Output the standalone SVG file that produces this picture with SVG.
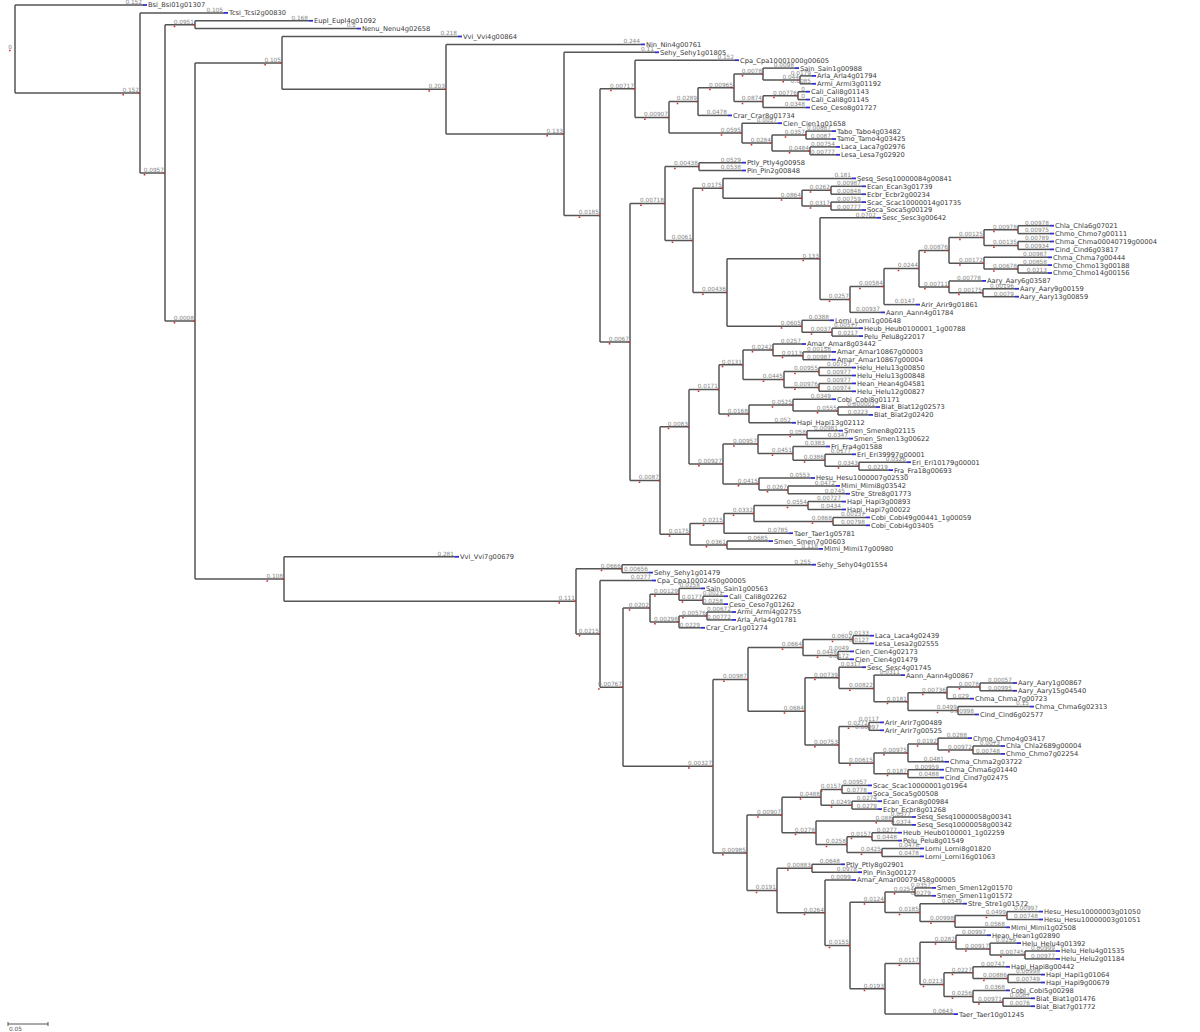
<svg xmlns="http://www.w3.org/2000/svg" xmlns:xlink="http://www.w3.org/1999/xlink" width="1200" height="1032" viewBox="0 0 1200 1032">
<style>
.e path{fill:none;stroke:#555;stroke-width:1.5}
.b{font-family:"DejaVu Sans",Verdana,sans-serif;font-size:5.8px;fill:#858585;text-anchor:end}
.t{font-family:"DejaVu Sans",Verdana,sans-serif;font-size:6.7px;fill:#383838}
.m{stroke:#2f2fd8;stroke-width:1.8}
.r{stroke:#d42a2a;stroke-width:1.5;fill:none}
</style>
<defs>
<path id="bm" class="m" d="M0,0h4"/>
<path id="r5" class="r" d="M-17.6,1.8h1.6M-1.6,0h1.6"/>
<path id="r6" class="r" d="M-21.3,1.8h1.6M-1.6,0h1.6"/>
<path id="r7" class="r" d="M-24.9,1.8h1.6M-1.6,0h1.6"/>
</defs>
<rect width="1200" height="1032" fill="#fff"/>
<g class="e" id="connectors">
<path d="M15,5V92.9"/>
<path d="M15,92.9H140M140,12.9V172.9"/>
<path d="M140,172.9H165M165,24.7V321"/>
<path d="M165,24.7H195M195,20.8V28.6"/>
<path d="M165,321H195M195,62.9V579.1"/>
<path d="M195,62.9H282M282,36.5V89.2"/>
<path d="M282,89.2H446M446,44.4V133.9"/>
<path d="M446,133.9H564M564,52.3V215.4"/>
<path d="M564,215.4H600M600,88.8V342"/>
<path d="M600,88.8H635M635,60.2V117.4"/>
<path d="M635,117.4H669M669,101.6V133.1"/>
<path d="M669,101.6H698M698,87.8V115.4"/>
<path d="M698,87.8H734M734,74V101.6"/>
<path d="M734,74H763M763,68.1V79.9"/>
<path d="M763,79.9H800M800,75.9V83.8"/>
<path d="M734,101.6H763M763,95.7V107.5"/>
<path d="M763,95.7H798M798,91.7V99.6"/>
<path d="M669,133.1H742M742,123.2V143"/>
<path d="M742,143H772M772,135.1V150.9"/>
<path d="M772,135.1H806M806,131.1V139"/>
<path d="M772,150.9H810M810,146.9V154.8"/>
<path d="M600,342H630M630,203.5V480.5"/>
<path d="M630,203.5H665M665,166.6V240.4"/>
<path d="M665,166.6H699M699,162.7V170.5"/>
<path d="M665,240.4H693M693,188.3V292.5"/>
<path d="M693,188.3H723M723,178.4V198.2"/>
<path d="M723,198.2H802M802,190.3V206.1"/>
<path d="M802,190.3H831M831,186.3V194.2"/>
<path d="M802,206.1H831M831,202.1V210"/>
<path d="M693,292.5H727M727,258.7V326.2"/>
<path d="M727,258.7H820M820,217.8V299.5"/>
<path d="M820,299.5H850M850,286.6V312.4"/>
<path d="M850,286.6H884M884,268.6V304.6"/>
<path d="M884,268.6H919M919,250.4V286.9"/>
<path d="M919,250.4H949M949,237.6V263.2"/>
<path d="M949,237.6H984M984,229.7V245.5"/>
<path d="M984,229.7H1018M1018,225.7V233.6"/>
<path d="M984,245.5H1018M1018,241.5V249.4"/>
<path d="M949,263.2H984M984,257.3V269.1"/>
<path d="M984,269.1H1018M1018,265.1V273"/>
<path d="M919,286.9H949M949,280.9V292.8"/>
<path d="M949,292.8H983M983,288.8V296.7"/>
<path d="M727,326.2H802M802,320.3V332.2"/>
<path d="M802,332.2H832M832,328.2V336.1"/>
<path d="M630,480.5H660M660,426.7V534.2"/>
<path d="M660,426.7H689M689,389.4V464"/>
<path d="M689,389.4H719M719,364.7V414"/>
<path d="M719,364.7H743M743,349.9V379.5"/>
<path d="M743,349.9H773M773,344V355.8"/>
<path d="M773,355.8H803M803,351.9V359.7"/>
<path d="M743,379.5H784M784,371.6V387.4"/>
<path d="M784,371.6H819M819,367.6V375.5"/>
<path d="M784,387.4H819M819,383.4V391.3"/>
<path d="M719,414H749M749,405.1V422.8"/>
<path d="M749,405.1H793M793,399.2V411"/>
<path d="M793,411H838M838,407V414.9"/>
<path d="M689,464H723M723,444.1V484"/>
<path d="M723,444.1H758M758,434.7V453.4"/>
<path d="M758,434.7H807M807,430.7V438.6"/>
<path d="M758,453.4H793M793,446.5V460.3"/>
<path d="M793,460.3H825M825,454.3V466.2"/>
<path d="M825,466.2H859M859,462.2V470.1"/>
<path d="M723,484H759M759,478V489.9"/>
<path d="M759,489.9H788M788,485.9V493.8"/>
<path d="M660,534.2H690M690,523.4V545"/>
<path d="M690,523.4H724M724,513.5V533.2"/>
<path d="M724,513.5H754M754,505.6V521.4"/>
<path d="M754,505.6H808M808,501.6V509.5"/>
<path d="M754,521.4H833M833,517.4V525.3"/>
<path d="M690,545H727M727,541.1V548.9"/>
<path d="M195,579.1H284M284,556.8V601.3"/>
<path d="M284,601.3H576M576,568.7V633.9"/>
<path d="M576,568.7H622M622,564.7V572.6"/>
<path d="M576,633.9H600M600,580.5V687.2"/>
<path d="M600,687.2H623M623,608.1V766.2"/>
<path d="M623,608.1H650M650,594.3V621.9"/>
<path d="M650,594.3H679M679,588.4V600.2"/>
<path d="M679,600.2H703M703,596.2V604.1"/>
<path d="M650,621.9H679M679,616V627.8"/>
<path d="M679,616H707M707,612V619.9"/>
<path d="M623,766.2H713M713,679.4V852.9"/>
<path d="M713,679.4H748M748,647.5V711.3"/>
<path d="M748,647.5H803M803,639.6V655.4"/>
<path d="M803,639.6H853M853,635.7V643.5"/>
<path d="M803,655.4H838M838,651.4V659.3"/>
<path d="M748,711.3H805M805,677.8V744.9"/>
<path d="M805,677.8H839M839,667.2V688.4"/>
<path d="M839,688.4H874M874,675.1V701.7"/>
<path d="M874,701.7H908M908,692.8V710.6"/>
<path d="M908,692.8H947M947,686.9V698.7"/>
<path d="M947,686.9H980M980,683V690.8"/>
<path d="M908,710.6H958M958,706.6V714.5"/>
<path d="M805,744.9H839M839,726.4V763.3"/>
<path d="M839,726.4H869M869,722.4V730.3"/>
<path d="M839,763.3H874M874,752.9V773.7"/>
<path d="M874,752.9H908M908,744.1V761.8"/>
<path d="M908,744.1H938M938,738.1V750"/>
<path d="M938,750H973M973,746V753.9"/>
<path d="M874,773.7H908M908,769.7V777.6"/>
<path d="M713,852.9H747M747,815.1V890.6"/>
<path d="M747,815.1H782M782,797.3V832.8"/>
<path d="M782,797.3H821M821,789.4V805.2"/>
<path d="M821,789.4H842M842,785.4V793.3"/>
<path d="M821,805.2H852M852,801.2V809.1"/>
<path d="M782,832.8H816M816,821V844.6"/>
<path d="M816,821H893M893,817V824.9"/>
<path d="M816,844.6H847M847,836.7V852.5"/>
<path d="M847,836.7H872M872,832.7V840.6"/>
<path d="M847,852.5H882M882,848.5V856.4"/>
<path d="M747,890.6H777M777,868.3V912.8"/>
<path d="M777,868.3H812M812,864.3V872.2"/>
<path d="M777,912.8H825M825,880V945.6"/>
<path d="M825,945.6H850M850,902.3V988.8"/>
<path d="M850,902.3H885M885,891.9V912.6"/>
<path d="M885,891.9H915M915,887.9V895.8"/>
<path d="M885,912.6H920M920,903.7V921.5"/>
<path d="M920,921.5H955M955,915.6V927.3"/>
<path d="M955,915.6H1007M1007,911.6V919.5"/>
<path d="M850,988.8H885M885,963.4V1014.1"/>
<path d="M885,963.4H920M920,942.2V984.6"/>
<path d="M920,942.2H956M956,935.2V949.1"/>
<path d="M956,949.1H990M990,943.1V955"/>
<path d="M990,955H1025M1025,951V958.9"/>
<path d="M920,984.6H944M944,972.7V996.4"/>
<path d="M944,972.7H973M973,966.8V978.6"/>
<path d="M973,978.6H1008M1008,974.6V982.5"/>
<path d="M944,996.4H973M973,990.4V1002.3"/>
<path d="M973,1002.3H1003M1003,998.3V1006.2"/>
<path d="M15,5H143"/>
<path d="M140,12.9H224"/>
<path d="M195,20.8H309"/>
<path d="M195,28.6H357"/>
<path d="M282,36.5H458"/>
<path d="M446,44.4H641"/>
<path d="M564,52.3H655"/>
<path d="M635,60.2H735"/>
<path d="M763,68.1H795"/>
<path d="M800,75.9H812"/>
<path d="M800,83.8H812"/>
<path d="M798,91.7H806"/>
<path d="M798,99.6H806"/>
<path d="M763,107.5H806"/>
<path d="M698,115.4H728"/>
<path d="M742,123.2H778"/>
<path d="M806,131.1H832"/>
<path d="M806,139H832"/>
<path d="M810,146.9H836"/>
<path d="M810,154.8H836"/>
<path d="M699,162.7H742"/>
<path d="M699,170.5H742"/>
<path d="M723,178.4H852"/>
<path d="M831,186.3H862"/>
<path d="M831,194.2H862"/>
<path d="M831,202.1H862"/>
<path d="M831,210H862"/>
<path d="M820,217.8H877"/>
<path d="M1018,225.7H1050"/>
<path d="M1018,233.6H1050"/>
<path d="M1018,241.5H1050"/>
<path d="M1018,249.4H1050"/>
<path d="M984,257.3H1048"/>
<path d="M1018,265.1H1048"/>
<path d="M1018,273H1048"/>
<path d="M949,280.9H982"/>
<path d="M983,288.8H1015"/>
<path d="M983,296.7H1015"/>
<path d="M884,304.6H916"/>
<path d="M850,312.4H881"/>
<path d="M802,320.3H830"/>
<path d="M832,328.2H859"/>
<path d="M832,336.1H859"/>
<path d="M773,344H802"/>
<path d="M803,351.9H832"/>
<path d="M803,359.7H832"/>
<path d="M819,367.6H852"/>
<path d="M819,375.5H852"/>
<path d="M819,383.4H852"/>
<path d="M819,391.3H852"/>
<path d="M793,399.2H832"/>
<path d="M838,407H876"/>
<path d="M838,414.9H869"/>
<path d="M749,422.8H792"/>
<path d="M807,430.7H839"/>
<path d="M807,438.6H849"/>
<path d="M793,446.5H826"/>
<path d="M825,454.3H852"/>
<path d="M859,462.2H907"/>
<path d="M859,470.1H889"/>
<path d="M759,478H811"/>
<path d="M788,485.9H836"/>
<path d="M788,493.8H846"/>
<path d="M808,501.6H842"/>
<path d="M808,509.5H842"/>
<path d="M833,517.4H866"/>
<path d="M833,525.3H866"/>
<path d="M724,533.2H789"/>
<path d="M727,541.1H769"/>
<path d="M727,548.9H819"/>
<path d="M284,556.8H455"/>
<path d="M622,564.7H812"/>
<path d="M622,572.6H649"/>
<path d="M600,580.5H652"/>
<path d="M679,588.4H701"/>
<path d="M703,596.2H724"/>
<path d="M703,604.1H724"/>
<path d="M707,612H732"/>
<path d="M707,619.9H732"/>
<path d="M679,627.8H701"/>
<path d="M853,635.7H870"/>
<path d="M853,643.5H870"/>
<path d="M838,651.4H850"/>
<path d="M838,659.3H850"/>
<path d="M839,667.2H862"/>
<path d="M874,675.1H901"/>
<path d="M980,683H1013"/>
<path d="M980,690.8H1013"/>
<path d="M947,698.7H970"/>
<path d="M958,706.6H1030"/>
<path d="M958,714.5H975"/>
<path d="M869,722.4H880"/>
<path d="M869,730.3H880"/>
<path d="M938,738.1H968"/>
<path d="M973,746H1001"/>
<path d="M973,753.9H1001"/>
<path d="M908,761.8H945"/>
<path d="M908,769.7H940"/>
<path d="M908,777.6H940"/>
<path d="M842,785.4H868"/>
<path d="M842,793.3H868"/>
<path d="M852,801.2H878"/>
<path d="M852,809.1H878"/>
<path d="M893,817H912"/>
<path d="M893,824.9H912"/>
<path d="M872,832.7H898"/>
<path d="M872,840.6H898"/>
<path d="M882,848.5H920"/>
<path d="M882,856.4H920"/>
<path d="M812,864.3H841"/>
<path d="M812,872.2H858"/>
<path d="M825,880H852"/>
<path d="M915,887.9H932"/>
<path d="M915,895.8H932"/>
<path d="M920,903.7H963"/>
<path d="M1007,911.6H1039"/>
<path d="M1007,919.5H1039"/>
<path d="M955,927.3H1006"/>
<path d="M956,935.2H987"/>
<path d="M990,943.1H1017"/>
<path d="M1025,951H1056"/>
<path d="M1025,958.9H1056"/>
<path d="M973,966.8H1006"/>
<path d="M1008,974.6H1041"/>
<path d="M1008,982.5H1041"/>
<path d="M973,990.4H1006"/>
<path d="M1003,998.3H1031"/>
<path d="M1003,1006.2H1031"/>
<path d="M885,1014.1H954"/>
</g>
<g id="root" transform="translate(15,49)"><text class="b" x="-3" y="0">0</text><path class="r" d="M-6,1.6h1.6"/></g>
<g id="inner-nodes">
<g id="N_a" transform="translate(140,92.9)"><use href="#r5"/><text class="b" x="-1" y="-1.2">0.152</text></g>
<g id="N_b" transform="translate(165,172.9)"><use href="#r6"/><text class="b" x="-1" y="-1.2">0.0957</text></g>
<g id="N_c" transform="translate(195,24.7)"><use href="#r6"/><text class="b" x="-1" y="-1.2">0.0951</text></g>
<g id="N_d" transform="translate(195,321)"><use href="#r6"/><text class="b" x="-1" y="-1.2">0.0008</text></g>
<g id="N_e" transform="translate(282,62.9)"><use href="#r5"/><text class="b" x="-1" y="-1.2">0.105</text></g>
<g id="N_g" transform="translate(446,89.2)"><use href="#r5"/><text class="b" x="-1" y="-1.2">0.203</text></g>
<g id="N_h" transform="translate(564,133.9)"><use href="#r5"/><text class="b" x="-1" y="-1.2">0.133</text></g>
<g id="N_i" transform="translate(600,215.4)"><use href="#r6"/><text class="b" x="-1" y="-1.2">0.0185</text></g>
<g id="N_j" transform="translate(635,88.8)"><use href="#r7"/><text class="b" x="-1" y="-1.2">0.00717</text></g>
<g id="N_l" transform="translate(669,117.4)"><use href="#r7"/><text class="b" x="-1" y="-1.2">0.00907</text></g>
<g id="N_m" transform="translate(698,101.6)"><use href="#r6"/><text class="b" x="-1" y="-1.2">0.0289</text></g>
<g id="N_o" transform="translate(734,87.8)"><use href="#r7"/><text class="b" x="-1" y="-1.2">0.00965</text></g>
<g id="N_p" transform="translate(763,74)"><use href="#r6"/><text class="b" x="-1" y="-1.2">0.0078</text></g>
<g id="N_r" transform="translate(800,79.9)"><use href="#r5"/><text class="b" x="-1" y="-1.2">0.044</text></g>
<g id="N_q" transform="translate(763,101.6)"><use href="#r6"/><text class="b" x="-1" y="-1.2">0.0874</text></g>
<g id="N_s" transform="translate(798,95.7)"><use href="#r7"/><text class="b" x="-1" y="-1.2">0.00776</text></g>
<g id="N_n" transform="translate(742,133.1)"><use href="#r6"/><text class="b" x="-1" y="-1.2">0.0595</text></g>
<g id="N_t" transform="translate(772,143)"><use href="#r6"/><text class="b" x="-1" y="-1.2">0.0284</text></g>
<g id="N_u" transform="translate(806,135.1)"><use href="#r6"/><text class="b" x="-1" y="-1.2">0.0357</text></g>
<g id="N_v" transform="translate(810,150.9)"><use href="#r6"/><text class="b" x="-1" y="-1.2">0.0484</text></g>
<g id="N_k" transform="translate(630,342)"><use href="#r6"/><text class="b" x="-1" y="-1.2">0.0067</text></g>
<g id="N_w" transform="translate(665,203.5)"><use href="#r7"/><text class="b" x="-1" y="-1.2">0.00718</text></g>
<g id="N_y" transform="translate(699,166.6)"><use href="#r7"/><text class="b" x="-1" y="-1.2">0.00438</text></g>
<g id="N_z" transform="translate(693,240.4)"><use href="#r6"/><text class="b" x="-1" y="-1.2">0.0061</text></g>
<g id="E4" transform="translate(723,188.3)"><use href="#r6"/><text class="b" x="-1" y="-1.2">0.0175</text></g>
<g id="E3" transform="translate(802,198.2)"><use href="#r6"/><text class="b" x="-1" y="-1.2">0.0864</text></g>
<g id="E1" transform="translate(831,190.3)"><use href="#r6"/><text class="b" x="-1" y="-1.2">0.0262</text></g>
<g id="E2" transform="translate(831,206.1)"><use href="#r6"/><text class="b" x="-1" y="-1.2">0.0317</text></g>
<g id="N_aa" transform="translate(727,292.5)"><use href="#r7"/><text class="b" x="-1" y="-1.2">0.00436</text></g>
<g id="C12" transform="translate(820,258.7)"><use href="#r5"/><text class="b" x="-1" y="-1.2">0.133</text></g>
<g id="C11" transform="translate(850,299.5)"><use href="#r6"/><text class="b" x="-1" y="-1.2">0.0257</text></g>
<g id="C10" transform="translate(884,286.6)"><use href="#r7"/><text class="b" x="-1" y="-1.2">0.00584</text></g>
<g id="C9" transform="translate(919,268.6)"><use href="#r6"/><text class="b" x="-1" y="-1.2">0.0244</text></g>
<g id="C6" transform="translate(949,250.4)"><use href="#r7"/><text class="b" x="-1" y="-1.2">0.00876</text></g>
<g id="C3" transform="translate(984,237.6)"><use href="#r7"/><text class="b" x="-1" y="-1.2">0.00125</text></g>
<g id="C1" transform="translate(1018,229.7)"><use href="#r7"/><text class="b" x="-1" y="-1.2">0.00978</text></g>
<g id="C2" transform="translate(1018,245.5)"><use href="#r7"/><text class="b" x="-1" y="-1.2">0.00135</text></g>
<g id="C5" transform="translate(984,263.2)"><use href="#r7"/><text class="b" x="-1" y="-1.2">0.00172</text></g>
<g id="C4" transform="translate(1018,269.1)"><use href="#r7"/><text class="b" x="-1" y="-1.2">0.00678</text></g>
<g id="C8" transform="translate(949,286.9)"><use href="#r7"/><text class="b" x="-1" y="-1.2">0.00711</text></g>
<g id="C7" transform="translate(983,292.8)"><use href="#r7"/><text class="b" x="-1" y="-1.2">0.00175</text></g>
<g id="H2" transform="translate(802,326.2)"><use href="#r6"/><text class="b" x="-1" y="-1.2">0.0605</text></g>
<g id="H1" transform="translate(832,332.2)"><use href="#r6"/><text class="b" x="-1" y="-1.2">0.0037</text></g>
<g id="N_x" transform="translate(660,480.5)"><use href="#r6"/><text class="b" x="-1" y="-1.2">0.0087</text></g>
<g id="N_ab" transform="translate(689,426.7)"><use href="#r6"/><text class="b" x="-1" y="-1.2">0.0083</text></g>
<g id="A7" transform="translate(719,389.4)"><use href="#r6"/><text class="b" x="-1" y="-1.2">0.0171</text></g>
<g id="A6" transform="translate(743,364.7)"><use href="#r6"/><text class="b" x="-1" y="-1.2">0.0131</text></g>
<g id="A2" transform="translate(773,349.9)"><use href="#r6"/><text class="b" x="-1" y="-1.2">0.0242</text></g>
<g id="A1" transform="translate(803,355.8)"><use href="#r6"/><text class="b" x="-1" y="-1.2">0.0113</text></g>
<g id="A5" transform="translate(784,379.5)"><use href="#r6"/><text class="b" x="-1" y="-1.2">0.0445</text></g>
<g id="A3" transform="translate(819,371.6)"><use href="#r7"/><text class="b" x="-1" y="-1.2">0.00955</text></g>
<g id="A4" transform="translate(819,387.4)"><use href="#r7"/><text class="b" x="-1" y="-1.2">0.00976</text></g>
<g id="B3" transform="translate(749,414)"><use href="#r6"/><text class="b" x="-1" y="-1.2">0.0168</text></g>
<g id="B2" transform="translate(793,405.1)"><use href="#r6"/><text class="b" x="-1" y="-1.2">0.0525</text></g>
<g id="B1" transform="translate(838,411)"><use href="#r6"/><text class="b" x="-1" y="-1.2">0.0555</text></g>
<g id="F5" transform="translate(723,464)"><use href="#r7"/><text class="b" x="-1" y="-1.2">0.00927</text></g>
<g id="F4" transform="translate(758,444.1)"><use href="#r7"/><text class="b" x="-1" y="-1.2">0.00957</text></g>
<g id="S1" transform="translate(807,434.7)"><use href="#r5"/><text class="b" x="-1" y="-1.2">0.058</text></g>
<g id="F3" transform="translate(793,453.4)"><use href="#r6"/><text class="b" x="-1" y="-1.2">0.0451</text></g>
<g id="F2" transform="translate(825,460.3)"><use href="#r6"/><text class="b" x="-1" y="-1.2">0.0386</text></g>
<g id="F1" transform="translate(859,466.2)"><use href="#r6"/><text class="b" x="-1" y="-1.2">0.0343</text></g>
<g id="M2" transform="translate(759,484)"><use href="#r6"/><text class="b" x="-1" y="-1.2">0.0415</text></g>
<g id="M1" transform="translate(788,489.9)"><use href="#r6"/><text class="b" x="-1" y="-1.2">0.0267</text></g>
<g id="N_ac" transform="translate(690,534.2)"><use href="#r6"/><text class="b" x="-1" y="-1.2">0.0175</text></g>
<g id="K4" transform="translate(724,523.4)"><use href="#r6"/><text class="b" x="-1" y="-1.2">0.0215</text></g>
<g id="K3" transform="translate(754,513.5)"><use href="#r6"/><text class="b" x="-1" y="-1.2">0.0332</text></g>
<g id="K1" transform="translate(808,505.6)"><use href="#r6"/><text class="b" x="-1" y="-1.2">0.0554</text></g>
<g id="K2" transform="translate(833,521.4)"><use href="#r6"/><text class="b" x="-1" y="-1.2">0.0868</text></g>
<g id="K5" transform="translate(727,545)"><use href="#r6"/><text class="b" x="-1" y="-1.2">0.0361</text></g>
<g id="N_f" transform="translate(284,579.1)"><use href="#r5"/><text class="b" x="-1" y="-1.2">0.108</text></g>
<g id="N_ad" transform="translate(576,601.3)"><use href="#r5"/><text class="b" x="-1" y="-1.2">0.111</text></g>
<g id="N_ae" transform="translate(622,568.7)"><use href="#r6"/><text class="b" x="-1" y="-1.2">0.0666</text></g>
<g id="N_af" transform="translate(600,633.9)"><use href="#r6"/><text class="b" x="-1" y="-1.2">0.0215</text></g>
<g id="N_ag" transform="translate(623,687.2)"><use href="#r7"/><text class="b" x="-1" y="-1.2">0.00767</text></g>
<g id="P1" transform="translate(650,608.1)"><use href="#r6"/><text class="b" x="-1" y="-1.2">0.0202</text></g>
<g id="P2" transform="translate(679,594.3)"><use href="#r7"/><text class="b" x="-1" y="-1.2">0.00129</text></g>
<g id="P3" transform="translate(703,600.2)"><use href="#r6"/><text class="b" x="-1" y="-1.2">0.0177</text></g>
<g id="P4" transform="translate(679,621.9)"><use href="#r7"/><text class="b" x="-1" y="-1.2">0.00298</text></g>
<g id="P5" transform="translate(707,616)"><use href="#r7"/><text class="b" x="-1" y="-1.2">0.00576</text></g>
<g id="Q1" transform="translate(713,766.2)"><use href="#r7"/><text class="b" x="-1" y="-1.2">0.00327</text></g>
<g id="Q2" transform="translate(748,679.4)"><use href="#r7"/><text class="b" x="-1" y="-1.2">0.00987</text></g>
<g id="R1" transform="translate(803,647.5)"><use href="#r6"/><text class="b" x="-1" y="-1.2">0.0664</text></g>
<g id="R2" transform="translate(853,639.6)"><use href="#r6"/><text class="b" x="-1" y="-1.2">0.0602</text></g>
<g id="R3" transform="translate(838,655.4)"><use href="#r6"/><text class="b" x="-1" y="-1.2">0.0448</text></g>
<g id="R4" transform="translate(805,711.3)"><use href="#r6"/><text class="b" x="-1" y="-1.2">0.0684</text></g>
<g id="T6" transform="translate(839,677.8)"><use href="#r7"/><text class="b" x="-1" y="-1.2">0.00739</text></g>
<g id="T5" transform="translate(874,688.4)"><use href="#r7"/><text class="b" x="-1" y="-1.2">0.00822</text></g>
<g id="T4" transform="translate(908,701.7)"><use href="#r6"/><text class="b" x="-1" y="-1.2">0.0181</text></g>
<g id="T2" transform="translate(947,692.8)"><use href="#r7"/><text class="b" x="-1" y="-1.2">0.00736</text></g>
<g id="T1" transform="translate(980,686.9)"><use href="#r6"/><text class="b" x="-1" y="-1.2">0.0078</text></g>
<g id="T3" transform="translate(958,710.6)"><use href="#r6"/><text class="b" x="-1" y="-1.2">0.0499</text></g>
<g id="U7" transform="translate(839,744.9)"><use href="#r7"/><text class="b" x="-1" y="-1.2">0.00753</text></g>
<g id="U1" transform="translate(869,726.4)"><use href="#r6"/><text class="b" x="-1" y="-1.2">0.0272</text></g>
<g id="U6" transform="translate(874,763.3)"><use href="#r7"/><text class="b" x="-1" y="-1.2">0.00615</text></g>
<g id="U4" transform="translate(908,752.9)"><use href="#r7"/><text class="b" x="-1" y="-1.2">0.00975</text></g>
<g id="U3" transform="translate(938,744.1)"><use href="#r6"/><text class="b" x="-1" y="-1.2">0.0192</text></g>
<g id="U2" transform="translate(973,750)"><use href="#r7"/><text class="b" x="-1" y="-1.2">0.00972</text></g>
<g id="U5" transform="translate(908,773.7)"><use href="#r6"/><text class="b" x="-1" y="-1.2">0.0187</text></g>
<g id="Q3" transform="translate(747,852.9)"><use href="#r7"/><text class="b" x="-1" y="-1.2">0.00985</text></g>
<g id="V4" transform="translate(782,815.1)"><use href="#r7"/><text class="b" x="-1" y="-1.2">0.00907</text></g>
<g id="V3" transform="translate(821,797.3)"><use href="#r6"/><text class="b" x="-1" y="-1.2">0.0488</text></g>
<g id="V1" transform="translate(842,789.4)"><use href="#r6"/><text class="b" x="-1" y="-1.2">0.0157</text></g>
<g id="V2" transform="translate(852,805.2)"><use href="#r6"/><text class="b" x="-1" y="-1.2">0.0249</text></g>
<g id="W5" transform="translate(816,832.8)"><use href="#r6"/><text class="b" x="-1" y="-1.2">0.0278</text></g>
<g id="W1" transform="translate(893,821)"><use href="#r5"/><text class="b" x="-1" y="-1.2">0.088</text></g>
<g id="W4" transform="translate(847,844.6)"><use href="#r6"/><text class="b" x="-1" y="-1.2">0.0258</text></g>
<g id="W2" transform="translate(872,836.7)"><use href="#r6"/><text class="b" x="-1" y="-1.2">0.0157</text></g>
<g id="W3" transform="translate(882,852.5)"><use href="#r6"/><text class="b" x="-1" y="-1.2">0.0425</text></g>
<g id="X2" transform="translate(777,890.6)"><use href="#r6"/><text class="b" x="-1" y="-1.2">0.0191</text></g>
<g id="X1" transform="translate(812,868.3)"><use href="#r7"/><text class="b" x="-1" y="-1.2">0.00883</text></g>
<g id="Y7" transform="translate(825,912.8)"><use href="#r6"/><text class="b" x="-1" y="-1.2">0.0264</text></g>
<g id="Y6" transform="translate(850,945.6)"><use href="#r6"/><text class="b" x="-1" y="-1.2">0.0155</text></g>
<g id="Y5" transform="translate(885,902.3)"><use href="#r6"/><text class="b" x="-1" y="-1.2">0.0124</text></g>
<g id="Y1" transform="translate(915,891.9)"><use href="#r6"/><text class="b" x="-1" y="-1.2">0.0254</text></g>
<g id="Y4" transform="translate(920,912.6)"><use href="#r6"/><text class="b" x="-1" y="-1.2">0.0185</text></g>
<g id="Y3" transform="translate(955,921.5)"><use href="#r7"/><text class="b" x="-1" y="-1.2">0.00998</text></g>
<g id="Y2" transform="translate(1007,915.6)"><use href="#r6"/><text class="b" x="-1" y="-1.2">0.0499</text></g>
<g id="Z10" transform="translate(885,988.8)"><use href="#r6"/><text class="b" x="-1" y="-1.2">0.0193</text></g>
<g id="Z9" transform="translate(920,963.4)"><use href="#r6"/><text class="b" x="-1" y="-1.2">0.0117</text></g>
<g id="Z3" transform="translate(956,942.2)"><use href="#r6"/><text class="b" x="-1" y="-1.2">0.0282</text></g>
<g id="Z2" transform="translate(990,949.1)"><use href="#r7"/><text class="b" x="-1" y="-1.2">0.00917</text></g>
<g id="Z1" transform="translate(1025,955)"><use href="#r7"/><text class="b" x="-1" y="-1.2">0.00745</text></g>
<g id="Z8" transform="translate(944,984.6)"><use href="#r6"/><text class="b" x="-1" y="-1.2">0.0213</text></g>
<g id="Z5" transform="translate(973,972.7)"><use href="#r6"/><text class="b" x="-1" y="-1.2">0.0227</text></g>
<g id="Z4" transform="translate(1008,978.6)"><use href="#r7"/><text class="b" x="-1" y="-1.2">0.00886</text></g>
<g id="Z7" transform="translate(973,996.4)"><use href="#r6"/><text class="b" x="-1" y="-1.2">0.0256</text></g>
<g id="Z6" transform="translate(1003,1002.3)"><use href="#r7"/><text class="b" x="-1" y="-1.2">0.00971</text></g>
</g>
<g id="leaves">
<g id="L1" transform="translate(143,5)"><use href="#bm"/><text class="b" x="-1" y="-1.2">0.152</text><text class="t" x="5" y="2.4">Bsi_Bsi01g01307</text></g>
<g id="L2" transform="translate(224,12.9)"><use href="#bm"/><text class="b" x="-1" y="-1.2">0.105</text><text class="t" x="5" y="2.4">Tcsi_Tcsi2g00830</text></g>
<g id="L3" transform="translate(309,20.8)"><use href="#bm"/><text class="b" x="-1" y="-1.2">0.168</text><text class="t" x="5" y="2.4">Eupl_Eupl4g01092</text></g>
<g id="L4" transform="translate(357,28.6)"><use href="#bm"/><text class="b" x="-1" y="-1.2">0.2</text><text class="t" x="5" y="2.4">Nenu_Nenu4g02658</text></g>
<g id="L5" transform="translate(458,36.5)"><use href="#bm"/><text class="b" x="-1" y="-1.2">0.218</text><text class="t" x="5" y="2.4">Vvi_Vvi4g00864</text></g>
<g id="L6" transform="translate(641,44.4)"><use href="#bm"/><text class="b" x="-1" y="-1.2">0.244</text><text class="t" x="5" y="2.4">Nin_Nin4g00761</text></g>
<g id="L7" transform="translate(655,52.3)"><use href="#bm"/><text class="b" x="-1" y="-1.2">0.11</text><text class="t" x="5" y="2.4">Sehy_Sehy1g01805</text></g>
<g id="L8" transform="translate(735,60.2)"><use href="#bm"/><text class="b" x="-1" y="-1.2">0.152</text><text class="t" x="5" y="2.4">Cpa_Cpa10001000g00605</text></g>
<g id="L9" transform="translate(795,68.1)"><use href="#bm"/><text class="b" x="-1" y="-1.2">0.0098</text><text class="t" x="5" y="2.4">Sain_Sain1g00988</text></g>
<g id="L10" transform="translate(812,75.9)"><use href="#bm"/><text class="b" x="-1" y="-1.2">0.0179</text><text class="t" x="5" y="2.4">Arla_Arla4g01794</text></g>
<g id="L11" transform="translate(812,83.8)"><use href="#bm"/><text class="b" x="-1" y="-1.2">0.0085</text><text class="t" x="5" y="2.4">Armi_Armi3g01192</text></g>
<g id="L12" transform="translate(806,91.7)"><use href="#bm"/><text class="b" x="-1" y="-1.2">0</text><text class="t" x="5" y="2.4">Cali_Cali8g01143</text></g>
<g id="L13" transform="translate(806,99.6)"><use href="#bm"/><text class="b" x="-1" y="-1.2">0</text><text class="t" x="5" y="2.4">Cali_Cali8g01145</text></g>
<g id="L14" transform="translate(806,107.5)"><use href="#bm"/><text class="b" x="-1" y="-1.2">0.0348</text><text class="t" x="5" y="2.4">Ceso_Ceso8g01727</text></g>
<g id="L15" transform="translate(728,115.4)"><use href="#bm"/><text class="b" x="-1" y="-1.2">0.0478</text><text class="t" x="5" y="2.4">Crar_Crar8g01734</text></g>
<g id="L16" transform="translate(778,123.2)"><use href="#bm"/><text class="b" x="-1" y="-1.2">0.0057</text><text class="t" x="5" y="2.4">Cien_Cien1g01658</text></g>
<g id="L17" transform="translate(832,131.1)"><use href="#bm"/><text class="b" x="-1" y="-1.2">0.00887</text><text class="t" x="5" y="2.4">Tabo_Tabo4g03482</text></g>
<g id="L18" transform="translate(832,139)"><use href="#bm"/><text class="b" x="-1" y="-1.2">0.0087</text><text class="t" x="5" y="2.4">Tamo_Tamo4g03425</text></g>
<g id="L19" transform="translate(836,146.9)"><use href="#bm"/><text class="b" x="-1" y="-1.2">0.00754</text><text class="t" x="5" y="2.4">Laca_Laca7g02976</text></g>
<g id="L20" transform="translate(836,154.8)"><use href="#bm"/><text class="b" x="-1" y="-1.2">0.00777</text><text class="t" x="5" y="2.4">Lesa_Lesa7g02920</text></g>
<g id="L21" transform="translate(742,162.7)"><use href="#bm"/><text class="b" x="-1" y="-1.2">0.0529</text><text class="t" x="5" y="2.4">Ptly_Ptly4g00958</text></g>
<g id="L22" transform="translate(742,170.5)"><use href="#bm"/><text class="b" x="-1" y="-1.2">0.0538</text><text class="t" x="5" y="2.4">Pin_Pin2g00848</text></g>
<g id="L23" transform="translate(852,178.4)"><use href="#bm"/><text class="b" x="-1" y="-1.2">0.181</text><text class="t" x="5" y="2.4">Sesq_Sesq10000084g00841</text></g>
<g id="L24" transform="translate(862,186.3)"><use href="#bm"/><text class="b" x="-1" y="-1.2">0.00987</text><text class="t" x="5" y="2.4">Ecan_Ecan3g01739</text></g>
<g id="L25" transform="translate(862,194.2)"><use href="#bm"/><text class="b" x="-1" y="-1.2">0.00848</text><text class="t" x="5" y="2.4">Ecbr_Ecbr2g00234</text></g>
<g id="L26" transform="translate(862,202.1)"><use href="#bm"/><text class="b" x="-1" y="-1.2">0.00759</text><text class="t" x="5" y="2.4">Scac_Scac10000014g01735</text></g>
<g id="L27" transform="translate(862,210)"><use href="#bm"/><text class="b" x="-1" y="-1.2">0.00777</text><text class="t" x="5" y="2.4">Soca_Soca5g00129</text></g>
<g id="L28" transform="translate(877,217.8)"><use href="#bm"/><text class="b" x="-1" y="-1.2">0.0702</text><text class="t" x="5" y="2.4">Sesc_Sesc3g00642</text></g>
<g id="L29" transform="translate(1050,225.7)"><use href="#bm"/><text class="b" x="-1" y="-1.2">0.00978</text><text class="t" x="5" y="2.4">Chla_Chla6g07021</text></g>
<g id="L30" transform="translate(1050,233.6)"><use href="#bm"/><text class="b" x="-1" y="-1.2">0.00975</text><text class="t" x="5" y="2.4">Chmo_Chmo7g00111</text></g>
<g id="L31" transform="translate(1050,241.5)"><use href="#bm"/><text class="b" x="-1" y="-1.2">0.00789</text><text class="t" x="5" y="2.4">Chma_Chma00040719g00004</text></g>
<g id="L32" transform="translate(1050,249.4)"><use href="#bm"/><text class="b" x="-1" y="-1.2">0.00934</text><text class="t" x="5" y="2.4">Cind_Cind6g03817</text></g>
<g id="L33" transform="translate(1048,257.3)"><use href="#bm"/><text class="b" x="-1" y="-1.2">0.00987</text><text class="t" x="5" y="2.4">Chma_Chma7g00444</text></g>
<g id="L34" transform="translate(1048,265.1)"><use href="#bm"/><text class="b" x="-1" y="-1.2">0.00858</text><text class="t" x="5" y="2.4">Chmo_Chmo13g00188</text></g>
<g id="L35" transform="translate(1048,273)"><use href="#bm"/><text class="b" x="-1" y="-1.2">0.0213</text><text class="t" x="5" y="2.4">Chmo_Chmo14g00156</text></g>
<g id="L36" transform="translate(982,280.9)"><use href="#bm"/><text class="b" x="-1" y="-1.2">0.00778</text><text class="t" x="5" y="2.4">Aary_Aary6g03587</text></g>
<g id="L37" transform="translate(1015,288.8)"><use href="#bm"/><text class="b" x="-1" y="-1.2">0.00196</text><text class="t" x="5" y="2.4">Aary_Aary9g00159</text></g>
<g id="L38" transform="translate(1015,296.7)"><use href="#bm"/><text class="b" x="-1" y="-1.2">0.0079</text><text class="t" x="5" y="2.4">Aary_Aary13g00859</text></g>
<g id="L39" transform="translate(916,304.6)"><use href="#bm"/><text class="b" x="-1" y="-1.2">0.0147</text><text class="t" x="5" y="2.4">Arir_Arir9g01861</text></g>
<g id="L40" transform="translate(881,312.4)"><use href="#bm"/><text class="b" x="-1" y="-1.2">0.00937</text><text class="t" x="5" y="2.4">Aann_Aann4g01784</text></g>
<g id="L41" transform="translate(830,320.3)"><use href="#bm"/><text class="b" x="-1" y="-1.2">0.0388</text><text class="t" x="5" y="2.4">Lorni_Lorni1g00648</text></g>
<g id="L42" transform="translate(859,328.2)"><use href="#bm"/><text class="b" x="-1" y="-1.2">0.00577</text><text class="t" x="5" y="2.4">Heub_Heub0100001_1g00788</text></g>
<g id="L43" transform="translate(859,336.1)"><use href="#bm"/><text class="b" x="-1" y="-1.2">0.0217</text><text class="t" x="5" y="2.4">Pelu_Pelu8g22017</text></g>
<g id="L44" transform="translate(802,344)"><use href="#bm"/><text class="b" x="-1" y="-1.2">0.0257</text><text class="t" x="5" y="2.4">Amar_Amar8g03442</text></g>
<g id="L45" transform="translate(832,351.9)"><use href="#bm"/><text class="b" x="-1" y="-1.2">0.00158</text><text class="t" x="5" y="2.4">Amar_Amar10867g00003</text></g>
<g id="L46" transform="translate(832,359.7)"><use href="#bm"/><text class="b" x="-1" y="-1.2">0.00987</text><text class="t" x="5" y="2.4">Amar_Amar10867g00004</text></g>
<g id="L47" transform="translate(852,367.6)"><use href="#bm"/><text class="b" x="-1" y="-1.2">0.00757</text><text class="t" x="5" y="2.4">Helu_Helu13g00850</text></g>
<g id="L48" transform="translate(852,375.5)"><use href="#bm"/><text class="b" x="-1" y="-1.2">0.00977</text><text class="t" x="5" y="2.4">Helu_Helu13g00848</text></g>
<g id="L49" transform="translate(852,383.4)"><use href="#bm"/><text class="b" x="-1" y="-1.2">0.00977</text><text class="t" x="5" y="2.4">Hean_Hean4g04581</text></g>
<g id="L50" transform="translate(852,391.3)"><use href="#bm"/><text class="b" x="-1" y="-1.2">0.00974</text><text class="t" x="5" y="2.4">Helu_Helu12g00827</text></g>
<g id="L51" transform="translate(832,399.2)"><use href="#bm"/><text class="b" x="-1" y="-1.2">0.0349</text><text class="t" x="5" y="2.4">Cobi_Cobi8g01171</text></g>
<g id="L52" transform="translate(876,407)"><use href="#bm"/><text class="b" x="-1" y="-1.2">0.000001</text><text class="t" x="5" y="2.4">Biat_Biat12g02573</text></g>
<g id="L53" transform="translate(869,414.9)"><use href="#bm"/><text class="b" x="-1" y="-1.2">0.0223</text><text class="t" x="5" y="2.4">Biat_Biat2g02420</text></g>
<g id="L54" transform="translate(792,422.8)"><use href="#bm"/><text class="b" x="-1" y="-1.2">0.052</text><text class="t" x="5" y="2.4">Hapi_Hapi13g02112</text></g>
<g id="L55" transform="translate(839,430.7)"><use href="#bm"/><text class="b" x="-1" y="-1.2">0.00981</text><text class="t" x="5" y="2.4">Smen_Smen8g02115</text></g>
<g id="L56" transform="translate(849,438.6)"><use href="#bm"/><text class="b" x="-1" y="-1.2">0.0347</text><text class="t" x="5" y="2.4">Smen_Smen13g00622</text></g>
<g id="L57" transform="translate(826,446.5)"><use href="#bm"/><text class="b" x="-1" y="-1.2">0.0383</text><text class="t" x="5" y="2.4">Fri_Fra4g01588</text></g>
<g id="L58" transform="translate(852,454.3)"><use href="#bm"/><text class="b" x="-1" y="-1.2">0.0177</text><text class="t" x="5" y="2.4">Eri_Eri39997g00001</text></g>
<g id="L59" transform="translate(907,462.2)"><use href="#bm"/><text class="b" x="-1" y="-1.2">0.0526</text><text class="t" x="5" y="2.4">Eri_Eri10179g00001</text></g>
<g id="L60" transform="translate(889,470.1)"><use href="#bm"/><text class="b" x="-1" y="-1.2">0.0219</text><text class="t" x="5" y="2.4">Fra_Fra18g00693</text></g>
<g id="L61" transform="translate(811,478)"><use href="#bm"/><text class="b" x="-1" y="-1.2">0.0553</text><text class="t" x="5" y="2.4">Hesu_Hesu1000007g02530</text></g>
<g id="L62" transform="translate(836,485.9)"><use href="#bm"/><text class="b" x="-1" y="-1.2">0.0472</text><text class="t" x="5" y="2.4">Mimi_Mimi8g03542</text></g>
<g id="L63" transform="translate(846,493.8)"><use href="#bm"/><text class="b" x="-1" y="-1.2">0.0745</text><text class="t" x="5" y="2.4">Stre_Stre8g01773</text></g>
<g id="L64" transform="translate(842,501.6)"><use href="#bm"/><text class="b" x="-1" y="-1.2">0.00727</text><text class="t" x="5" y="2.4">Hapi_Hapi3g00893</text></g>
<g id="L65" transform="translate(842,509.5)"><use href="#bm"/><text class="b" x="-1" y="-1.2">0.0434</text><text class="t" x="5" y="2.4">Hapi_Hapi7g00022</text></g>
<g id="L66" transform="translate(866,517.4)"><use href="#bm"/><text class="b" x="-1" y="-1.2">0.00137</text><text class="t" x="5" y="2.4">Cobi_Cobi49g00441_1g00059</text></g>
<g id="L67" transform="translate(866,525.3)"><use href="#bm"/><text class="b" x="-1" y="-1.2">0.00798</text><text class="t" x="5" y="2.4">Cobi_Cobi4g03405</text></g>
<g id="L68" transform="translate(789,533.2)"><use href="#bm"/><text class="b" x="-1" y="-1.2">0.0785</text><text class="t" x="5" y="2.4">Taer_Taer1g05781</text></g>
<g id="L69" transform="translate(769,541.1)"><use href="#bm"/><text class="b" x="-1" y="-1.2">0.0685</text><text class="t" x="5" y="2.4">Smen_Smen7g00603</text></g>
<g id="L70" transform="translate(819,548.9)"><use href="#bm"/><text class="b" x="-1" y="-1.2">0.118</text><text class="t" x="5" y="2.4">Mimi_Mimi17g00980</text></g>
<g id="L71" transform="translate(455,556.8)"><use href="#bm"/><text class="b" x="-1" y="-1.2">0.281</text><text class="t" x="5" y="2.4">Vvi_Vvi7g00679</text></g>
<g id="L72" transform="translate(812,564.7)"><use href="#bm"/><text class="b" x="-1" y="-1.2">0.255</text><text class="t" x="5" y="2.4">Sehy_Sehy04g01554</text></g>
<g id="L73" transform="translate(649,572.6)"><use href="#bm"/><text class="b" x="-1" y="-1.2">0.00656</text><text class="t" x="5" y="2.4">Sehy_Sehy1g01479</text></g>
<g id="L74" transform="translate(652,580.5)"><use href="#bm"/><text class="b" x="-1" y="-1.2">0.0277</text><text class="t" x="5" y="2.4">Cpa_Cpa10002450g00005</text></g>
<g id="L75" transform="translate(701,588.4)"><use href="#bm"/><text class="b" x="-1" y="-1.2">0.0258</text><text class="t" x="5" y="2.4">Sain_Sain1g00563</text></g>
<g id="L76" transform="translate(724,596.2)"><use href="#bm"/><text class="b" x="-1" y="-1.2">0.0021</text><text class="t" x="5" y="2.4">Cali_Cali8g02262</text></g>
<g id="L77" transform="translate(724,604.1)"><use href="#bm"/><text class="b" x="-1" y="-1.2">0.0258</text><text class="t" x="5" y="2.4">Ceso_Ceso7g01262</text></g>
<g id="L78" transform="translate(732,612)"><use href="#bm"/><text class="b" x="-1" y="-1.2">0.00672</text><text class="t" x="5" y="2.4">Armi_Armi4g02755</text></g>
<g id="L79" transform="translate(732,619.9)"><use href="#bm"/><text class="b" x="-1" y="-1.2">0.00772</text><text class="t" x="5" y="2.4">Arla_Arla4g01781</text></g>
<g id="L80" transform="translate(701,627.8)"><use href="#bm"/><text class="b" x="-1" y="-1.2">0.0229</text><text class="t" x="5" y="2.4">Crar_Crar1g01274</text></g>
<g id="L81" transform="translate(870,635.7)"><use href="#bm"/><text class="b" x="-1" y="-1.2">0.0133</text><text class="t" x="5" y="2.4">Laca_Laca4g02439</text></g>
<g id="L82" transform="translate(870,643.5)"><use href="#bm"/><text class="b" x="-1" y="-1.2">0.0127</text><text class="t" x="5" y="2.4">Lesa_Lesa2g02555</text></g>
<g id="L83" transform="translate(850,651.4)"><use href="#bm"/><text class="b" x="-1" y="-1.2">0.0049</text><text class="t" x="5" y="2.4">Cien_Cien4g02173</text></g>
<g id="L84" transform="translate(850,659.3)"><use href="#bm"/><text class="b" x="-1" y="-1.2">0.0172</text><text class="t" x="5" y="2.4">Cien_Cien4g01479</text></g>
<g id="L85" transform="translate(862,667.2)"><use href="#bm"/><text class="b" x="-1" y="-1.2">0.0317</text><text class="t" x="5" y="2.4">Sesc_Sesc4g01745</text></g>
<g id="L86" transform="translate(901,675.1)"><use href="#bm"/><text class="b" x="-1" y="-1.2">0.0311</text><text class="t" x="5" y="2.4">Aann_Aann4g00867</text></g>
<g id="L87" transform="translate(1013,683)"><use href="#bm"/><text class="b" x="-1" y="-1.2">0.00057</text><text class="t" x="5" y="2.4">Aary_Aary1g00867</text></g>
<g id="L88" transform="translate(1013,690.8)"><use href="#bm"/><text class="b" x="-1" y="-1.2">0.00995</text><text class="t" x="5" y="2.4">Aary_Aary15g04540</text></g>
<g id="L89" transform="translate(970,698.7)"><use href="#bm"/><text class="b" x="-1" y="-1.2">0.029</text><text class="t" x="5" y="2.4">Chma_Chma7g00723</text></g>
<g id="L90" transform="translate(1030,706.6)"><use href="#bm"/><text class="b" x="-1" y="-1.2">0.15</text><text class="t" x="5" y="2.4">Chma_Chma6g02313</text></g>
<g id="L91" transform="translate(975,714.5)"><use href="#bm"/><text class="b" x="-1" y="-1.2">0.00998</text><text class="t" x="5" y="2.4">Cind_Cind6g02577</text></g>
<g id="L92" transform="translate(880,722.4)"><use href="#bm"/><text class="b" x="-1" y="-1.2">0.0117</text><text class="t" x="5" y="2.4">Arir_Arir7g00489</text></g>
<g id="L93" transform="translate(880,730.3)"><use href="#bm"/><text class="b" x="-1" y="-1.2">0.00997</text><text class="t" x="5" y="2.4">Arir_Arir7g00525</text></g>
<g id="L94" transform="translate(968,738.1)"><use href="#bm"/><text class="b" x="-1" y="-1.2">0.0288</text><text class="t" x="5" y="2.4">Chmo_Chmo4g03417</text></g>
<g id="L95" transform="translate(1001,746)"><use href="#bm"/><text class="b" x="-1" y="-1.2">0.0073</text><text class="t" x="5" y="2.4">Chla_Chla2689g00004</text></g>
<g id="L96" transform="translate(1001,753.9)"><use href="#bm"/><text class="b" x="-1" y="-1.2">0.00748</text><text class="t" x="5" y="2.4">Chmo_Chmo7g02254</text></g>
<g id="L97" transform="translate(945,761.8)"><use href="#bm"/><text class="b" x="-1" y="-1.2">0.0481</text><text class="t" x="5" y="2.4">Chma_Chma2g03722</text></g>
<g id="L98" transform="translate(940,769.7)"><use href="#bm"/><text class="b" x="-1" y="-1.2">0.00959</text><text class="t" x="5" y="2.4">Chma_Chma6g01440</text></g>
<g id="L99" transform="translate(940,777.6)"><use href="#bm"/><text class="b" x="-1" y="-1.2">0.0488</text><text class="t" x="5" y="2.4">Cind_Cind7g02475</text></g>
<g id="L100" transform="translate(868,785.4)"><use href="#bm"/><text class="b" x="-1" y="-1.2">0.00957</text><text class="t" x="5" y="2.4">Scac_Scac10000001g01964</text></g>
<g id="L101" transform="translate(868,793.3)"><use href="#bm"/><text class="b" x="-1" y="-1.2">0.0778</text><text class="t" x="5" y="2.4">Soca_Soca5g00508</text></g>
<g id="L102" transform="translate(878,801.2)"><use href="#bm"/><text class="b" x="-1" y="-1.2">0.0274</text><text class="t" x="5" y="2.4">Ecan_Ecan8g00984</text></g>
<g id="L103" transform="translate(878,809.1)"><use href="#bm"/><text class="b" x="-1" y="-1.2">0.0279</text><text class="t" x="5" y="2.4">Ecbr_Ecbr8g01268</text></g>
<g id="L104" transform="translate(912,817)"><use href="#bm"/><text class="b" x="-1" y="-1.2">0.0377</text><text class="t" x="5" y="2.4">Sesq_Sesq10000058g00341</text></g>
<g id="L105" transform="translate(912,824.9)"><use href="#bm"/><text class="b" x="-1" y="-1.2">0.0374</text><text class="t" x="5" y="2.4">Sesq_Sesq10000058g00342</text></g>
<g id="L106" transform="translate(898,832.7)"><use href="#bm"/><text class="b" x="-1" y="-1.2">0.0277</text><text class="t" x="5" y="2.4">Heub_Heub0100001_1g02259</text></g>
<g id="L107" transform="translate(898,840.6)"><use href="#bm"/><text class="b" x="-1" y="-1.2">0.0448</text><text class="t" x="5" y="2.4">Pelu_Pelu8g01549</text></g>
<g id="L108" transform="translate(920,848.5)"><use href="#bm"/><text class="b" x="-1" y="-1.2">0.0478</text><text class="t" x="5" y="2.4">Lorni_Lorni8g01820</text></g>
<g id="L109" transform="translate(920,856.4)"><use href="#bm"/><text class="b" x="-1" y="-1.2">0.0478</text><text class="t" x="5" y="2.4">Lorni_Lorni16g01063</text></g>
<g id="L110" transform="translate(841,864.3)"><use href="#bm"/><text class="b" x="-1" y="-1.2">0.0648</text><text class="t" x="5" y="2.4">Ptly_Ptly8g02901</text></g>
<g id="L111" transform="translate(858,872.2)"><use href="#bm"/><text class="b" x="-1" y="-1.2">0.0978</text><text class="t" x="5" y="2.4">Pin_Pin3g00127</text></g>
<g id="L112" transform="translate(852,880)"><use href="#bm"/><text class="b" x="-1" y="-1.2">0.0099</text><text class="t" x="5" y="2.4">Amar_Amar00079458g00005</text></g>
<g id="L113" transform="translate(932,887.9)"><use href="#bm"/><text class="b" x="-1" y="-1.2">0.0357</text><text class="t" x="5" y="2.4">Smen_Smen12g01570</text></g>
<g id="L114" transform="translate(932,895.8)"><use href="#bm"/><text class="b" x="-1" y="-1.2">0.0279</text><text class="t" x="5" y="2.4">Smen_Smen11g01572</text></g>
<g id="L115" transform="translate(963,903.7)"><use href="#bm"/><text class="b" x="-1" y="-1.2">0.0549</text><text class="t" x="5" y="2.4">Stre_Stre1g01572</text></g>
<g id="L116" transform="translate(1039,911.6)"><use href="#bm"/><text class="b" x="-1" y="-1.2">0.00997</text><text class="t" x="5" y="2.4">Hesu_Hesu10000003g01050</text></g>
<g id="L117" transform="translate(1039,919.5)"><use href="#bm"/><text class="b" x="-1" y="-1.2">0.00748</text><text class="t" x="5" y="2.4">Hesu_Hesu10000003g01051</text></g>
<g id="L118" transform="translate(1006,927.3)"><use href="#bm"/><text class="b" x="-1" y="-1.2">0.0568</text><text class="t" x="5" y="2.4">Mimi_Mimi1g02508</text></g>
<g id="L119" transform="translate(987,935.2)"><use href="#bm"/><text class="b" x="-1" y="-1.2">0.00997</text><text class="t" x="5" y="2.4">Hean_Hean1g02890</text></g>
<g id="L120" transform="translate(1017,943.1)"><use href="#bm"/><text class="b" x="-1" y="-1.2">0.0259</text><text class="t" x="5" y="2.4">Helu_Helu4g01392</text></g>
<g id="L121" transform="translate(1056,951)"><use href="#bm"/><text class="b" x="-1" y="-1.2">0.00999</text><text class="t" x="5" y="2.4">Helu_Helu4g01535</text></g>
<g id="L122" transform="translate(1056,958.9)"><use href="#bm"/><text class="b" x="-1" y="-1.2">0.00977</text><text class="t" x="5" y="2.4">Helu_Helu2g01184</text></g>
<g id="L123" transform="translate(1006,966.8)"><use href="#bm"/><text class="b" x="-1" y="-1.2">0.00747</text><text class="t" x="5" y="2.4">Hapi_Hapi8g00442</text></g>
<g id="L124" transform="translate(1041,974.6)"><use href="#bm"/><text class="b" x="-1" y="-1.2">0.00998</text><text class="t" x="5" y="2.4">Hapi_Hapi1g01064</text></g>
<g id="L125" transform="translate(1041,982.5)"><use href="#bm"/><text class="b" x="-1" y="-1.2">0.00749</text><text class="t" x="5" y="2.4">Hapi_Hapi9g00679</text></g>
<g id="L126" transform="translate(1006,990.4)"><use href="#bm"/><text class="b" x="-1" y="-1.2">0.0368</text><text class="t" x="5" y="2.4">Cobi_Cobi5g00298</text></g>
<g id="L127" transform="translate(1031,998.3)"><use href="#bm"/><text class="b" x="-1" y="-1.2">0.0087</text><text class="t" x="5" y="2.4">Biat_Biat1g01476</text></g>
<g id="L128" transform="translate(1031,1006.2)"><use href="#bm"/><text class="b" x="-1" y="-1.2">0.0076</text><text class="t" x="5" y="2.4">Biat_Biat7g01772</text></g>
<g id="L129" transform="translate(954,1014.1)"><use href="#bm"/><text class="b" x="-1" y="-1.2">0.0643</text><text class="t" x="5" y="2.4">Taer_Taer10g01245</text></g>
</g>
<g id="scale-bar">
<path d="M8,1024H48M8,1022V1026M48,1022V1026" fill="none" stroke="#555" stroke-width="1"/>
<text x="9" y="1031" style="font-family:'DejaVu Sans',Verdana,sans-serif;font-size:5.8px;fill:#555">0.05</text>
</g>
</svg>
